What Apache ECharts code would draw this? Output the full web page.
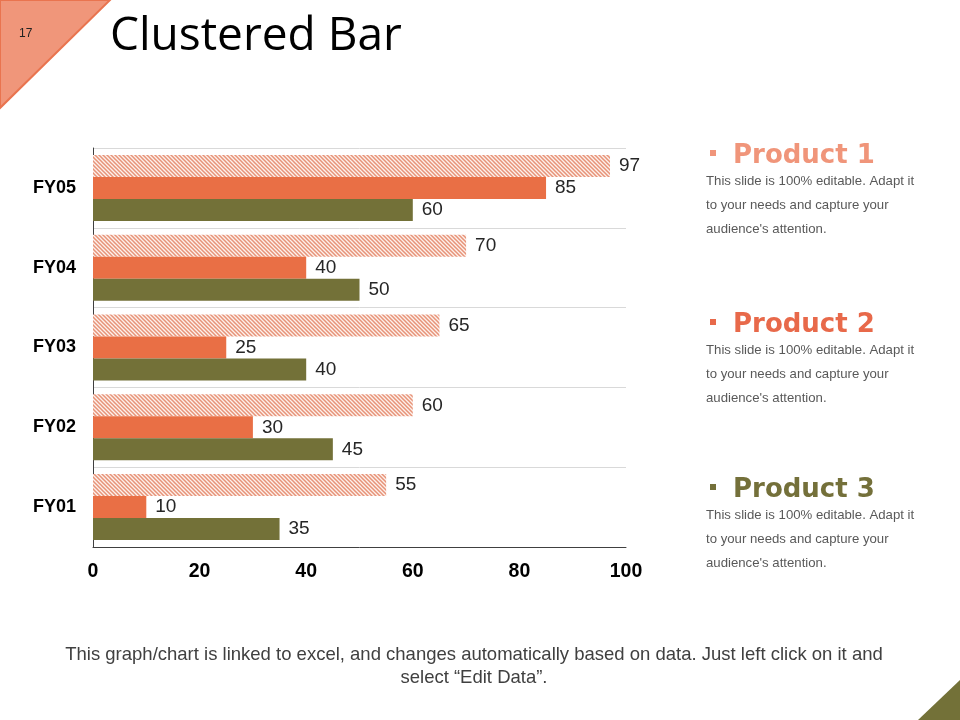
<!DOCTYPE html>
<html>
<head>
<meta charset="utf-8">
<script src="https://cdn.jsdelivr.net/npm/echarts@6/dist/echarts.min.js"></script>
<style>
  html, body { margin: 0; padding: 0; background: #fff; }
  #chart { width: 960px; height: 720px; }
</style>
</head>
<body>
<div id="chart"></div>
<script>
// data
const years = ['FY01', 'FY02', 'FY03', 'FY04', 'FY05'];
const product1 = [55, 60, 65, 70, 97];
const product2 = [10, 30, 25, 40, 85];
const product3 = [35, 45, 40, 50, 60];
const xTicks = [0, 20, 40, 60, 80, 100];

const blurb = ['This slide is 100% editable. Adapt it', 'to your needs and capture your', "audience's attention."];

// diagonal hatch for product 1
function hatch() {
  const c = document.createElement('canvas');
  c.width = 4; c.height = 4;
  const ctx = c.getContext('2d');
  ctx.fillStyle = '#fdf1ec';
  ctx.fillRect(0, 0, 4, 4);
  ctx.strokeStyle = '#e79378';
  ctx.lineWidth = 1.5;
  ctx.beginPath();
  ctx.moveTo(-1, -1); ctx.lineTo(5, 5);
  ctx.moveTo(-1, 3); ctx.lineTo(1, 5);
  ctx.moveTo(3, -1); ctx.lineTo(5, 1);
  ctx.stroke();
  return c;
}

const chart = echarts.init(document.getElementById('chart'));

const valueLabel = {
  show: true,
  position: 'right',
  distance: 9,
  color: '#262626',
  fontSize: 19,
  fontFamily: 'Liberation Sans, Arial'
};

function productBlock(name, color, top) {
  const els = [
    { type: 'rect', left: 710, top: top - 3, shape: { width: 6, height: 6 }, style: { fill: color } },
    { type: 'text', left: 733, top: top - 10, style: { text: name, fill: color, font: 'bold 26px "DejaVu Sans", Verdana' } }
  ];
  blurb.forEach((t, i) => {
    els.push({ type: 'text', left: 706, top: top + 22 + i * 24, style: { text: t, fill: '#595959', font: '13.2px "Liberation Sans", Arial' } });
  });
  return els;
}

chart.setOption({
  animation: false,
  grid: { left: 93, right: 334, top: 148, bottom: 173, containLabel: false },
  xAxis: {
    type: 'value',
    min: xTicks[0],
    max: xTicks[xTicks.length - 1],
    interval: 20,
    axisLine: { show: true, lineStyle: { color: '#404040', width: 1 } },
    axisTick: { show: false },
    splitLine: { show: false },
    axisLabel: { color: '#000', fontWeight: 'bold', fontSize: 19.5, fontFamily: 'Liberation Sans, Arial', margin: 15 }
  },
  yAxis: {
    type: 'category',
    data: years,
    axisLine: { show: true, lineStyle: { color: '#404040', width: 1 } },
    axisTick: { show: false },
    splitLine: { show: true, lineStyle: { color: '#d9d9d9', width: 1 } },
    axisLabel: { color: '#000', fontWeight: 'bold', fontSize: 18, fontFamily: 'Liberation Sans, Arial', margin: 17 }
  },
  series: [
    { name: 'Product 1', type: 'bar', data: product1, barWidth: 22, barGap: '0%', itemStyle: { color: { image: hatch(), repeat: 'repeat' } }, label: valueLabel },
    { name: 'Product 2', type: 'bar', data: product2, barWidth: 22, barGap: '0%', itemStyle: { color: '#e96f45' }, label: valueLabel },
    { name: 'Product 3', type: 'bar', data: product3, barWidth: 22, barGap: '0%', itemStyle: { color: '#737138' }, label: valueLabel }
  ],
  graphic: [
    { type: 'polygon', shape: { points: [[0, 0], [110, 0], [0, 108]] }, style: { fill: '#f0967a', stroke: '#e9744f', lineWidth: 2 } },
    { type: 'text', left: 19, top: 28, style: { text: '17', fill: '#222', font: '12px "Liberation Sans", Arial' } },
    { type: 'text', left: 110, top: 14, style: { text: 'Clustered Bar', fill: '#000', font: '46px "Open Sans", "Noto Sans"' } },
    ...productBlock('Product 1', '#f0957a', 153),
    ...productBlock('Product 2', '#e8694a', 322),
    ...productBlock('Product 3', '#74703a', 487),
    { type: 'text', x: 474, y: 643, style: { text: 'This graph/chart is linked to excel, and changes automatically based on data. Just left click on it and\nselect \u201cEdit Data\u201d.', fill: '#404040', font: '18.5px "Liberation Sans", Arial', align: 'center', lineHeight: 23 } },
    { type: 'polygon', shape: { points: [[918, 720], [960, 720], [960, 680]] }, style: { fill: '#737138' } }
  ]
});
</script>
</body>
</html>
